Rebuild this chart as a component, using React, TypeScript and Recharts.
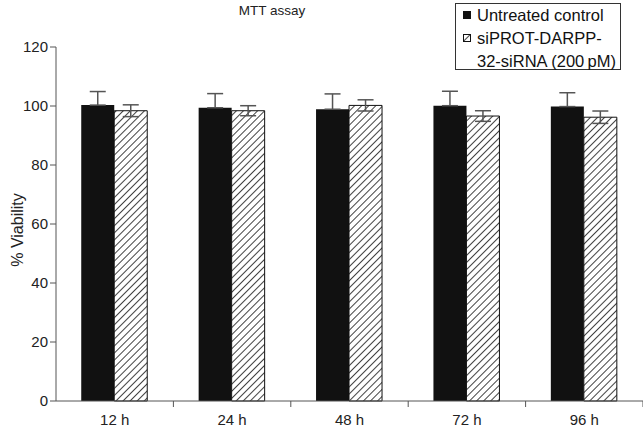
import { BarChart, Bar, XAxis, YAxis, ErrorBar } from 'recharts';

const times = ['12 h', '24 h', '48 h', '72 h', '96 h'];
const controlValues = [100.3, 99.4, 98.9, 100.1, 99.8];
const controlErr = [4.6, 4.8, 5.2, 4.9, 4.7];
const sirnaValues = [98.4, 98.4, 100.2, 96.6, 96.2];
const sirnaErr = [2.0, 1.7, 1.9, 1.8, 2.1];
const yTicks = [0, 20, 40, 60, 80, 100, 120];
const seriesNames = ['Untreated control', 'siPROT-DARPP-', '32-siRNA (200\u2009pM)'];

const data = times.map((t, i) => ({
  time: t,
  control: controlValues[i],
  controlErr: controlErr[i],
  sirna: sirnaValues[i],
  sirnaErr: sirnaErr[i],
}));

const FONT = '"Liberation Sans", Arial, sans-serif';
const AXIS = '#555';
const BAND = 117.4;

const XTick = (props: any) => {
  const { x, y, payload } = props;
  return (
    <g>
      <line x1={x + BAND / 2} y1={y - 8} x2={x + BAND / 2} y2={y - 2} stroke={AXIS} />
      <text x={x} y={y + 16} textAnchor="middle" fontSize={15} fill="#222" fontFamily={FONT}>
        {payload.value}
      </text>
    </g>
  );
};

// legend drawn as an overlay so it doesn't push the plot area down
const LegendBox = () => (
  <div
    style={{
      position: 'absolute',
      left: 455,
      top: 3,
      width: 166,
      height: 67,
      border: '1px solid #333',
      background: '#fff',
      fontFamily: FONT,
      fontSize: 16.5,
      color: '#111',
      lineHeight: '23px',
      padding: '0 0 0 7px',
      boxSizing: 'border-box',
    }}
  >
    <div style={{ display: 'flex', alignItems: 'center' }}>
      <svg width={9} height={9} style={{ marginRight: 5 }}>
        <rect x={0} y={0} width={8} height={8} fill="#111" />
      </svg>
      {seriesNames[0]}
    </div>
    <div style={{ display: 'flex', alignItems: 'center' }}>
      <svg width={9} height={9} style={{ marginRight: 5 }}>
        <rect x={0.5} y={0.5} width={7} height={7} fill="url(#hatch)" stroke="#111" />
      </svg>
      {seriesNames[1]}
    </div>
    <div style={{ paddingLeft: 14 }}>{seriesNames[2]}</div>
  </div>
);

export default function App() {
  return (
    <div style={{ position: 'absolute', left: 0, top: 0, width: 643, height: 428, background: '#fff' }}>
      <BarChart
        width={643}
        height={428}
        data={data}
        margin={{ top: 47, right: 0, left: 0, bottom: 0 }}
        barCategoryGap="21.5%"
        barGap={0}
      >
        <defs>
          <pattern id="hatch" width={5} height={5} patternUnits="userSpaceOnUse" patternTransform="rotate(45)">
            <rect width={5} height={5} fill="#fff" />
            <line x1={0} y1={0} x2={0} y2={5} stroke="#111" strokeWidth={1.6} />
          </pattern>
        </defs>
        <text x={272} y={15} textAnchor="middle" fontSize={13.5} fontFamily={FONT} fill="#222">
          MTT assay
        </text>
        <text
          x={23}
          y={230}
          transform="rotate(-90 23 230)"
          textAnchor="middle"
          fontSize={16}
          fontFamily={FONT}
          fill="#222"
        >
          % Viability
        </text>
        <XAxis
          dataKey="time"
          height={27}
          stroke={AXIS}
          tickLine={false}
          tick={<XTick />}
          interval={0}
        />
        <YAxis
          width={56}
          domain={[0, 120]}
          ticks={yTicks}
          stroke={AXIS}
          tickSize={6}
          tick={{ fill: '#222', fontSize: 15, fontFamily: FONT }}
        />
        <Bar dataKey="control" fill="#111" isAnimationActive={false}>
          <ErrorBar
            dataKey={(d: any) => [0, d.controlErr]}
            width={8}
            stroke={AXIS}
            strokeWidth={1.5}
          />
        </Bar>
        <Bar dataKey="sirna" fill="url(#hatch)" stroke="#111" strokeWidth={1} isAnimationActive={false}>
          <ErrorBar dataKey="sirnaErr" width={8} stroke={AXIS} strokeWidth={1.5} />
        </Bar>
      </BarChart>
      <LegendBox />
    </div>
  );
}
